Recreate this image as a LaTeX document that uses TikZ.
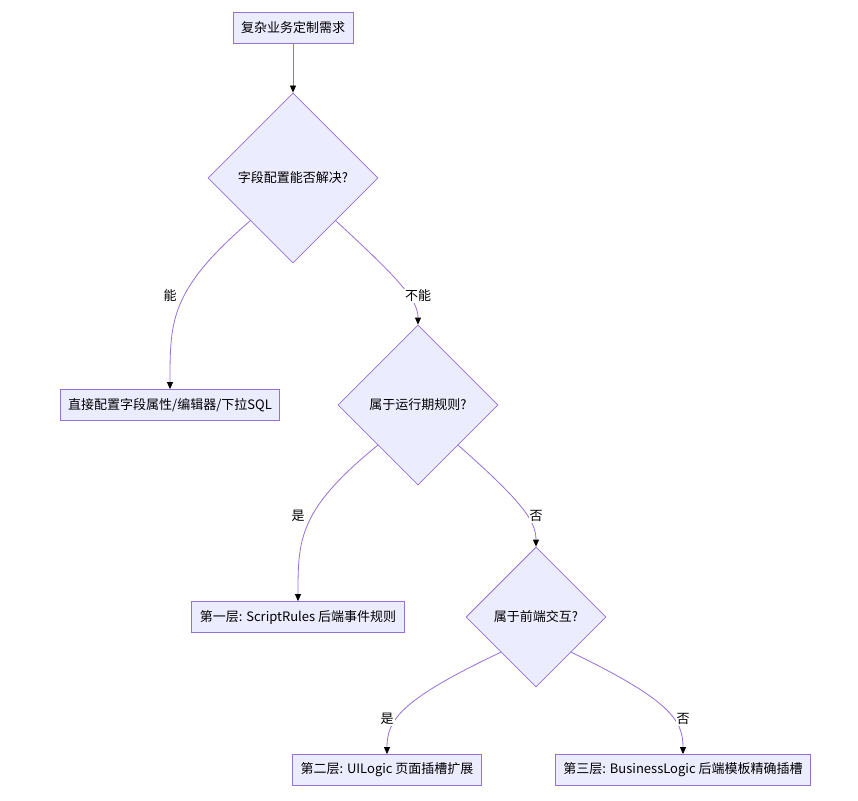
\documentclass[tikz,border=0pt]{standalone}
\usepackage{fontspec}
\setmainfont{Noto Sans CJK SC}
\usetikzlibrary{shapes.geometric,arrows.meta}
\definecolor{nfill}{HTML}{ECECFF}
\definecolor{nline}{HTML}{9370DB}
\begin{document}
\begin{tikzpicture}[x=1pt,y=-1pt,font=\fontsize{13}{16}\selectfont,
  box/.style={draw=nline,fill=nfill,line width=0.8pt,minimum height=31pt,inner xsep=8pt},
  dia/.style={draw=nline,fill=nfill,line width=0.8pt,diamond,inner sep=0pt,minimum width=#1,minimum height=#1},
  conn/.style={draw=nline,line width=0.8pt,-{Triangle[color=black,length=7pt,width=6pt]}},
  lab/.style={fill=white,inner sep=1pt}]
\useasboundingbox (0,0) rectangle (858,800);
\node[box] (a) at (293,28) {复杂业务定制需求};
\node[dia=170pt] (d1) at (293,178) {字段配置能否解决?};
\node[box] (b) at (170,405) {直接配置字段属性/编辑器/下拉SQL};
\node[dia=160pt] (d2) at (418,405) {属于运行期规则?};
\node[box] (c) at (298,617) {第一层: ScriptRules 后端事件规则};
\node[dia=140pt] (d3) at (536,617) {属于前端交互?};
\node[box] (e) at (387,770) {第二层: UILogic 页面插槽扩展};
\node[box] (f) at (683,770) {第三层: BusinessLogic 后端模板精确插槽};
\draw[conn] (a) -- (d1);
\draw[conn] (d1.south west) .. controls (170,290) and (170,320) .. (b.north);
\draw[conn] (d1.south east) .. controls (400,280) and (418,300) .. (d2.north);
\draw[conn] (d2.south west) .. controls (298,510) and (298,540) .. (c.north);
\draw[conn] (d2.south east) .. controls (520,500) and (536,520) .. (d3.north);
\draw[conn] (d3.south west) .. controls (400,700) and (387,720) .. (e.north);
\draw[conn] (d3.south east) .. controls (670,700) and (683,720) .. (f.north);
\node[lab] (l1) at (170,296) {能};
\node[lab] (l2) at (418,296) {不能};
\node[lab] (l3) at (298,516) {是};
\node[lab] (l4) at (536,516) {否};
\node[lab] (l5) at (387,719) {是};
\node[lab] (l6) at (683,719) {否};
\end{tikzpicture}
\end{document}
